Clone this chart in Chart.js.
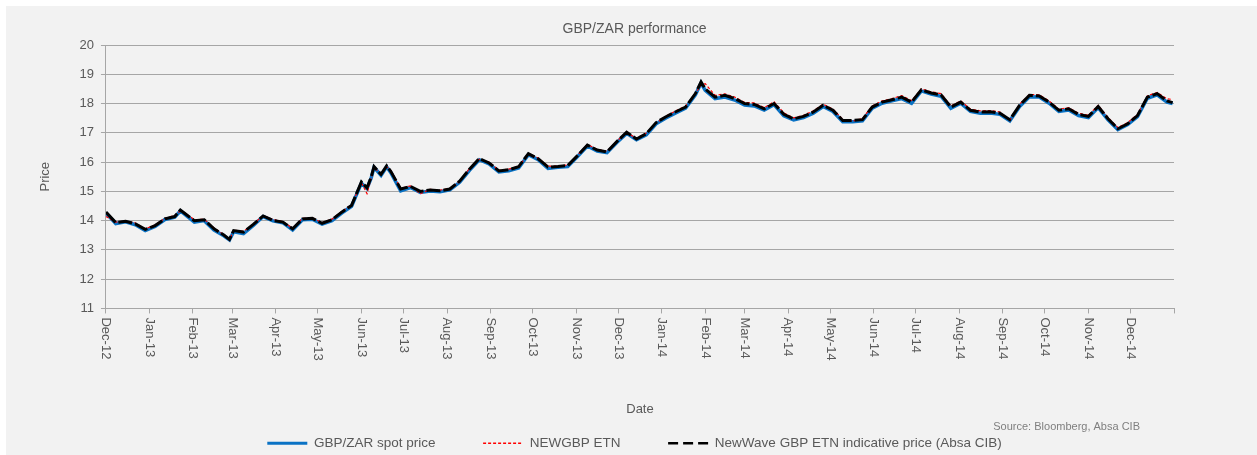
<!DOCTYPE html>
<html>
<head>
<meta charset="utf-8">
<script src="https://cdn.jsdelivr.net/npm/chart.js@4.4.0/dist/chart.umd.min.js"></script>
<style>
  html, body { margin: 0; padding: 0; background: #fff; }
</style>
</head>
<body>
<canvas id="perf-chart" width="1257" height="455"></canvas>
<script>
// month axis labels (one tick per month start, Dec-12 .. Dec-14)
var monthLabels = ['Dec-12', 'Jan-13', 'Feb-13', 'Mar-13', 'Apr-13', 'May-13', 'Jun-13', 'Jul-13',
    'Aug-13', 'Sep-13', 'Oct-13', 'Nov-13', 'Dec-13', 'Jan-14', 'Feb-14', 'Mar-14', 'Apr-14',
    'May-14', 'Jun-14', 'Jul-14', 'Aug-14', 'Sep-14', 'Oct-14', 'Nov-14', 'Dec-14'];

// sample dates, in days since 1 Dec 2012
var days = [0, 7, 14, 21, 28, 35, 42, 49, 53, 56,
    63, 70, 77, 84, 88, 91, 98, 105, 112, 119,
    126, 133, 140, 147, 154, 161, 168, 175, 182, 186,
    189, 191, 196, 200, 203, 210, 217, 224, 231, 238,
    245, 252, 259, 266, 273, 280, 287, 294, 301, 308,
    315, 322, 329, 336, 343, 350, 357, 364, 371, 378,
    385, 392, 399, 406, 413, 420, 424, 427, 434, 441,
    448, 455, 462, 469, 476, 483, 490, 497, 504, 511,
    518, 525, 532, 539, 546, 553, 560, 567, 574, 581,
    588, 595, 602, 609, 616, 623, 630, 637, 644, 651,
    658, 665, 672, 679, 686, 693, 700, 707, 714, 721,
    728, 735, 742, 749, 756, 760];

var spotPrice = [14.26, 13.90, 13.96, 13.86, 13.66, 13.80, 14.04, 14.12, 14.33, 14.22,
    13.95, 14.00, 13.68, 13.48, 13.34, 13.62, 13.56, 13.84, 14.14, 13.99,
    13.93, 13.68, 14.03, 14.05, 13.88, 14.00, 14.26, 14.49, 15.28, 15.10,
    15.46, 15.82, 15.55, 15.84, 15.64, 15.02, 15.13, 14.96, 15.01, 14.99,
    15.05, 15.31, 15.72, 16.08, 15.94, 15.66, 15.70, 15.80, 16.25, 16.08,
    15.78, 15.82, 15.85, 16.19, 16.55, 16.38, 16.32, 16.67, 16.98, 16.76,
    16.93, 17.31, 17.51, 17.68, 17.84, 18.30, 18.70, 18.45, 18.17, 18.22,
    18.12, 17.95, 17.92, 17.78, 17.96, 17.58, 17.44, 17.52, 17.67, 17.90,
    17.73, 17.38, 17.38, 17.41, 17.84, 18.01, 18.09, 18.17, 18.01, 18.43,
    18.32, 18.25, 17.84, 18.01, 17.73, 17.67, 17.68, 17.63, 17.41, 17.90,
    18.23, 18.22, 18.01, 17.73, 17.78, 17.59, 17.52, 17.86, 17.44, 17.11,
    17.28, 17.55, 18.18, 18.30, 18.05, 18.00];

var etnPrice = [14.14, 13.95, 13.99, 13.92, 13.72, 13.85, 14.08, 14.18, 14.33, 14.27,
    14.03, 14.05, 13.75, 13.52, 13.33, 13.68, 13.63, 13.89, 14.17, 14.04,
    13.97, 13.74, 14.08, 14.10, 13.93, 14.05, 14.31, 14.54, 15.30, 14.92,
    15.45, 15.80, 15.62, 15.84, 15.72, 15.10, 15.19, 14.92, 15.07, 15.04,
    15.10, 15.33, 15.78, 16.10, 16.00, 15.72, 15.76, 15.86, 16.27, 16.14,
    15.86, 15.87, 15.90, 16.24, 16.60, 16.44, 16.37, 16.72, 17.00, 16.82,
    16.99, 17.33, 17.57, 17.75, 17.91, 18.36, 18.62, 18.68, 18.28, 18.33,
    18.22, 18.04, 18.02, 17.86, 18.06, 17.68, 17.51, 17.60, 17.75, 17.98,
    17.81, 17.46, 17.40, 17.49, 17.92, 18.09, 18.17, 18.27, 18.10, 18.50,
    18.40, 18.34, 17.92, 18.09, 17.81, 17.75, 17.76, 17.71, 17.42, 17.98,
    18.31, 18.30, 18.09, 17.81, 17.86, 17.67, 17.60, 17.94, 17.52, 17.18,
    17.35, 17.63, 18.26, 18.38, 18.16, 18.14];

var indicativePrice = [14.29, 13.93, 13.98, 13.89, 13.70, 13.83, 14.06, 14.14, 14.36, 14.25,
    14.00, 14.03, 13.72, 13.51, 13.36, 13.66, 13.61, 13.87, 14.16, 14.01,
    13.95, 13.72, 14.06, 14.08, 13.91, 14.03, 14.29, 14.52, 15.32, 15.12,
    15.49, 15.85, 15.58, 15.87, 15.68, 15.08, 15.17, 15.00, 15.05, 15.02,
    15.08, 15.35, 15.76, 16.12, 15.97, 15.70, 15.74, 15.84, 16.29, 16.11,
    15.83, 15.85, 15.88, 16.22, 16.58, 16.41, 16.35, 16.70, 17.02, 16.79,
    16.97, 17.35, 17.55, 17.72, 17.88, 18.34, 18.74, 18.50, 18.22, 18.28,
    18.17, 18.00, 17.97, 17.82, 18.00, 17.63, 17.48, 17.56, 17.71, 17.94,
    17.77, 17.42, 17.42, 17.45, 17.88, 18.05, 18.13, 18.22, 18.05, 18.47,
    18.36, 18.30, 17.88, 18.05, 17.77, 17.71, 17.72, 17.67, 17.45, 17.94,
    18.28, 18.26, 18.05, 17.77, 17.82, 17.63, 17.56, 17.90, 17.48, 17.14,
    17.31, 17.59, 18.22, 18.34, 18.09, 18.03];

var seriesNames = ['GBP/ZAR spot price', 'NEWGBP ETN', 'NewWave GBP ETN indicative price (Absa CIB)'];

var fontFamily = "Arial, 'Liberation Sans', sans-serif";
var textColor = '#595959';
var gridColor = '#a6a6a6';

// month-start positions on the day axis (includes the closing Jan-15 tick)
var start = Date.UTC(2012, 11, 1);
var monthDays = [];
for (var m = 0; m <= monthLabels.length; m++) {
    monthDays.push((Date.UTC(2012, 11 + m, 1) - start) / 86400000);
}

function toPoints(values) {
    return values.map(function (v, i) { return { x: days[i], y: v }; });
}

var legendDash = [[], [3, 2], [10, 5]];
var legendWidth = [3, 1.5, 2.5];

var backgroundPlugin = {
    id: 'panel',
    beforeDraw: function (chart) {
        var ctx = chart.ctx;
        ctx.save();
        ctx.fillStyle = '#ffffff';
        ctx.fillRect(0, 0, chart.width, chart.height);
        ctx.fillStyle = '#f2f2f2';
        ctx.fillRect(6, 6, chart.width - 6, chart.height - 6);
        ctx.restore();
    }
};

// month labels read top-to-bottom, as in the original
var monthLabelPlugin = {
    id: 'monthLabels',
    afterDraw: function (chart) {
        var scale = chart.scales.x;
        var ctx = chart.ctx;
        ctx.save();
        ctx.font = '13px ' + fontFamily;
        ctx.fillStyle = textColor;
        ctx.textAlign = 'left';
        ctx.textBaseline = 'middle';
        scale.ticks.forEach(function (t, i) {
            if (!monthLabels[i]) return;
            ctx.save();
            ctx.translate(scale.getPixelForValue(t.value), scale.top + 9);
            ctx.rotate(Math.PI / 2);
            ctx.fillText(monthLabels[i], 0, 0);
            ctx.restore();
        });
        ctx.font = '11px ' + fontFamily;
        ctx.fillStyle = '#7f7f7f';
        ctx.textAlign = 'right';
        ctx.fillText('Source: Bloomberg, Absa CIB', 1140, 427);
        ctx.restore();
    }
};

var config = {
    type: 'line',
    data: {
        datasets: [{
            label: seriesNames[0],
            data: toPoints(spotPrice),
            borderColor: '#0a72c4',
            borderWidth: 3.5,
            order: 3
        }, {
            label: seriesNames[1],
            data: toPoints(etnPrice),
            borderColor: '#ff0000',
            borderWidth: 1.2,
            borderDash: [3, 2],
            order: 2
        }, {
            label: seriesNames[2],
            data: toPoints(indicativePrice),
            borderColor: '#000000',
            borderWidth: 3,
            borderDash: [14, 3],
            order: 1
        }]
    },
    options: {
        responsive: false,
        animation: false,
        elements: {
            point: { radius: 0 },
            line: { tension: 0, fill: false }
        },
        layout: { padding: { top: 6, left: 12, right: 0, bottom: -5 } },
        plugins: {
            title: {
                display: true,
                text: 'GBP/ZAR performance',
                color: textColor,
                font: { family: fontFamily, size: 14, weight: 'normal' },
                padding: { top: 14.6, bottom: 7.6 }
            },
            legend: {
                position: 'bottom',
                labels: {
                    usePointStyle: true,
                    pointStyleWidth: 40,
                    padding: 10,
                    color: textColor,
                    font: { family: fontFamily, size: 13.5 },
                    generateLabels: function (chart) {
                        return chart.data.datasets.map(function (ds, i) {
                            var gap = i < 2 ? '          ' : '';
                            return {
                                text: seriesNames[i] + gap,
                                strokeStyle: ds.borderColor,
                                fillStyle: ds.borderColor,
                                lineWidth: legendWidth[i],
                                lineDash: legendDash[i],
                                pointStyle: 'line',
                                fontColor: textColor,
                                datasetIndex: i,
                                hidden: false
                            };
                        });
                    }
                }
            },
            tooltip: { enabled: false }
        },
        scales: {
            x: {
                type: 'linear',
                min: 0,
                max: monthDays[monthDays.length - 1],
                afterBuildTicks: function (scale) {
                    scale.ticks = monthDays.map(function (d) { return { value: d }; });
                },
                ticks: {
                    autoSkip: false,
                    minRotation: 90,
                    maxRotation: 90,
                    padding: 4,
                    color: 'rgba(0,0,0,0)',
                    font: { family: fontFamily, size: 13 },
                    callback: function (value, index) { return monthLabels[index] || ''; }
                },
                grid: { drawOnChartArea: false, drawTicks: true, tickLength: 5, color: gridColor },
                border: { display: true, color: gridColor },
                title: {
                    display: true,
                    text: 'Date',
                    color: textColor,
                    font: { family: fontFamily, size: 13 },
                    padding: { top: 36.9, bottom: 9.2 }
                }
            },
            y: {
                min: 11,
                max: 20,
                ticks: {
                    stepSize: 1,
                    padding: 7,
                    color: textColor,
                    font: { family: fontFamily, size: 13 }
                },
                grid: { color: gridColor, tickLength: 5 },
                border: { display: true, color: gridColor },
                title: {
                    display: true,
                    text: 'Price',
                    color: textColor,
                    font: { family: fontFamily, size: 13 },
                    padding: { top: 25.2, bottom: 19.7 }
                }
            },
            // empty right-hand margin, so title and legend centre on the whole panel
            margin: {
                position: 'right',
                display: true,
                grid: { display: false },
                border: { display: false },
                ticks: { display: false },
                afterFit: function (scale) { scale.width = 83; }
            }
        }
    },
    plugins: [backgroundPlugin, monthLabelPlugin]
};

window.onload = function () {
    var ctx = document.getElementById('perf-chart').getContext('2d');
    window.perfChart = new Chart(ctx, config);
};
</script>
</body>
</html>
